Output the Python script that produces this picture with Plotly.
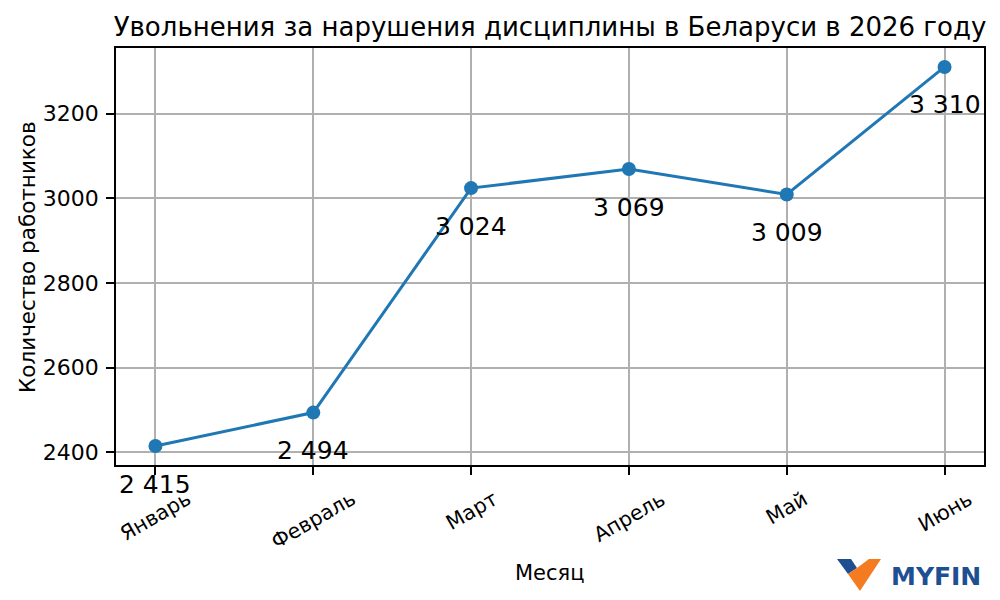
import plotly.graph_objects as go

months = ["Январь", "Февраль", "Март", "Апрель", "Май", "Июнь"]
values = [2415, 2494, 3024, 3069, 3009, 3310]
title_text = "Увольнения за нарушения дисциплины в Беларуси в 2026 году"
x_title = "Месяц"
y_title = "Количество работников"

FONT = "DejaVu Sans"
W, H = 1000, 600
L, R, T, B = 116, 16, 48, 135
PW, PH = W - L - R, H - T - B

def px(x, y):
    return ((x - L) / PW, (H - B - y) / PH)

xs = list(range(len(months)))
fig = go.Figure()
fig.add_trace(go.Scatter(
    x=xs, y=values, mode="lines+markers",
    line=dict(color="#1f77b4", width=3),
    marker=dict(color="#1f77b4", size=14),
    hoverinfo="skip", showlegend=False,
))

annotations = []
for i, v in enumerate(values):
    annotations.append(dict(
        x=i, y=v, xref="x", yref="y", text=f"{v:,}".replace(",", " "),
        showarrow=False, yshift=-38, xanchor="center", yanchor="middle",
        font=dict(family=FONT, size=25, color="black"),
    ))
for i, m in enumerate(months):
    annotations.append(dict(
        x=i, y=0, xref="x", yref="paper", text=m, textangle=-30,
        showarrow=False, xanchor="center", yanchor="top", yshift=-19,
        font=dict(family=FONT, size=20.5, color="black"),
    ))

# axis titles
ax, ay = px(550, 573)
annotations.append(dict(
    x=ax, y=ay, xref="paper", yref="paper", text=x_title, showarrow=False,
    xanchor="center", yanchor="middle",
    font=dict(family=FONT, size=21, color="black"),
))
yx, yy = px(27, 257)
annotations.append(dict(
    x=yx, y=yy, xref="paper", yref="paper", text=y_title, showarrow=False,
    textangle=-90, xanchor="center", yanchor="middle",
    font=dict(family=FONT, size=21.5, color="black"),
))

# logo
def path(pts):
    s = ""
    for k, (x, y) in enumerate(pts):
        a, b = px(x, y)
        s += ("M" if k == 0 else "L") + f"{a:.5f},{b:.5f} "
    return s + "Z"

shapes = [
    dict(type="path", xref="paper", yref="paper", line=dict(width=0),
         fillcolor="#1d4f91",
         path=path([(837, 559), (851, 559), (857, 568), (848, 574)])),
    dict(type="path", xref="paper", yref="paper", line=dict(width=0),
         fillcolor="#f47b20",
         path=path([(869, 559), (881, 559), (860, 591), (848, 574), (857, 568)])),
]
lx, ly = px(889, 576)
annotations.append(dict(
    x=lx, y=ly, xref="paper", yref="paper", text="<b>MYFIN</b>",
    showarrow=False, xanchor="left", yanchor="middle",
    font=dict(family=FONT, size=25, color="#1d4f91"),
))

axis_common = dict(
    showline=True, mirror=True, linecolor="black", linewidth=1.5,
    showgrid=True, gridcolor="#b0b0b0", gridwidth=1.5,
    ticks="outside", ticklen=8, tickwidth=1.5, tickcolor="black",
    zeroline=False, automargin=False,
)

fig.update_layout(
    width=W, height=H,
    margin=dict(l=L, r=R, t=T, b=B),
    paper_bgcolor="white", plot_bgcolor="white",
    title=dict(text=title_text, x=0.5, xref="paper", xanchor="center",
               y=1 - 27 / H, yanchor="middle",
               font=dict(family=FONT, size=26, color="black")),
    xaxis=dict(range=[-0.25, len(months) - 0.75], tickvals=xs,
               showticklabels=False, **axis_common),
    yaxis=dict(range=[2370.25, 3354.75], dtick=200, tick0=0,
               tickfont=dict(family=FONT, size=22, color="black"),
               ticklabelstandoff=3, **axis_common),
    annotations=annotations, shapes=shapes,
)

fig.write_html("out.html", config={"displayModeBar": False},
               post_script="document.body.style.margin='0';document.body.style.padding='0';")
